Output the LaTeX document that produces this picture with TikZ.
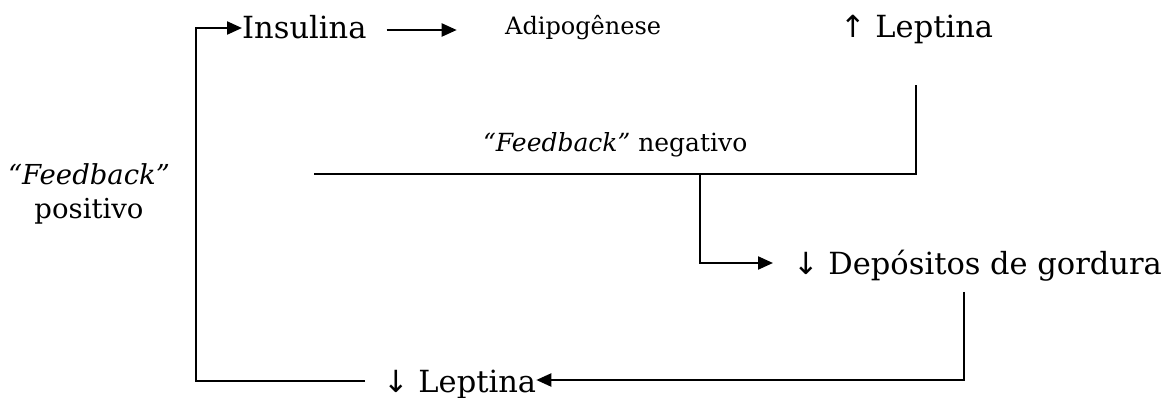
\documentclass[tikz,border=0pt]{standalone}
\usepackage{fontspec}
\setmainfont{DejaVu Serif}
\newfontfamily\arrowfont{DejaVu Sans}
\usetikzlibrary{arrows.meta}
\begin{document}
\begin{tikzpicture}[x=1pt,y=-1pt,
  lbl/.style={inner sep=0pt, anchor=base west, font=\fontsize{30.5}{34}\selectfont},
  conn/.style={line width=2.2pt, line cap=rect},
  arr/.style={line width=2.2pt, -{Triangle[length=15pt,width=13pt]}}]
\useasboundingbox (0,0) rectangle (1163,398);
% nodes
\node[lbl] (ins) at (242,39) {Insulina};
\node[lbl, font=\fontsize{24}{28}\selectfont] (adi) at (505,35) {Adipogênese};
\node[lbl] (lepU) at (840,38) {{\arrowfont ↑} Leptina};
\node[lbl, font=\fontsize{25}{28}\selectfont] (fbn) at (483,152) {\textit{“Feedback”} negativo};
\node[inner sep=0pt, align=center, font=\fontsize{27.5}{34}\selectfont] (fbp) at (89,194) {\textit{“Feedback”}\\positivo};
\node[lbl] (dep) at (793,275) {{\arrowfont ↓} Depósitos de gordura};
\node[lbl] (lepB) at (383,392) {{\arrowfont ↓} Leptina};
% helper coordinates
\coordinate (bl) at (196,381);
\coordinate (tl) at (196,28);
\coordinate (lbL) at ([xshift=-18pt]lepB.west);
\coordinate (dr) at (964,292);
\coordinate (ru) at (916,86);
\coordinate (fl) at (315,174);
\coordinate (fj) at (700,174);
\coordinate (fk) at (700,263);
\coordinate (depIn) at ([xshift=-20pt]dep.west);
\coordinate (a1) at ([xshift=20pt]ins.east);
% connectors
\draw[arr] (lbL |- bl) -- (bl) -- (tl) -- (tl -| ins.west);
\draw[arr] (a1 |- 0,30) -- ++(70,0);
\draw[conn] (ru) -- (ru |- fl) -- (fl);
\draw[arr] (fj) -- (fk) -- (fk -| depIn);
\draw[arr] (dr) -- (dr |- 0,380) -- (lepB.east |- 0,380);
\end{tikzpicture}
\end{document}
